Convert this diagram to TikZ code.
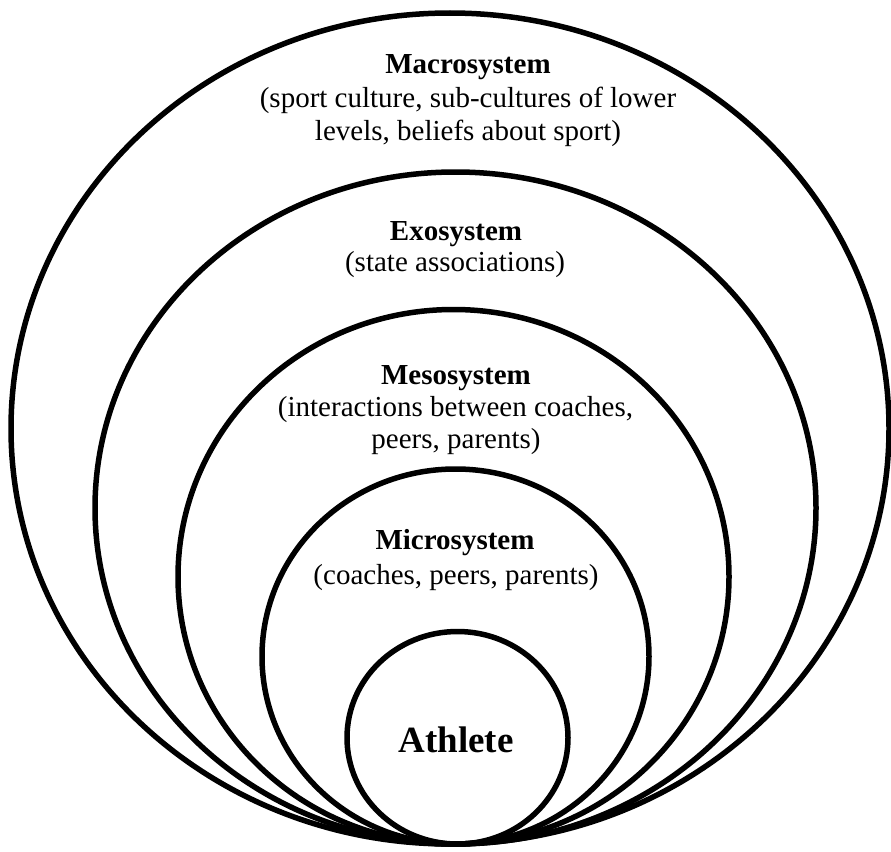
\documentclass[tikz,border=0pt]{standalone}
\usepackage{fontspec}
\setmainfont{Liberation Serif}
\begin{document}
\begin{tikzpicture}[x=1pt,y=-1pt,
  ring/.style={line width=5.5pt, draw=black},
  ttl/.style={font=\fontsize{29}{33}\selectfont\bfseries, anchor=base, inner sep=0pt},
  sub/.style={font=\fontsize{29}{33}\selectfont, anchor=base, inner sep=0pt},
  ath/.style={font=\fontsize{37}{40}\selectfont\bfseries, anchor=base, inner sep=0pt}]
\useasboundingbox (0,0) rectangle (891,851);
% nested ellipses, all tangent at the bottom
\draw[ring] (450,428.5) ellipse [x radius=439, y radius=415.5];
\draw[ring] (455.5,508) ellipse [x radius=360.5, y radius=336];
\draw[ring] (453.5,576.75) ellipse [x radius=275.5, y radius=267.25];
\draw[ring] (455.5,656.5) ellipse [x radius=193.5, y radius=187.5];
\draw[ring] (457.5,737.75) ellipse [x radius=110.5, y radius=106.25];
% labels
\node[ttl] (macroT) at (468,74) {Macrosystem};
\node[sub] (macroA) at (468,107.5) {(sport culture, sub-cultures of lower};
\node[sub] (macroB) at (468,140.5) {levels, beliefs about sport)};
\node[ttl] (exoT) at (456,240) {Exosystem};
\node[sub] (exoA) at (455,271.5) {(state associations)};
\node[ttl] (mesoT) at (456,384) {Mesosystem};
\node[sub] (mesoA) at (455.5,416.5) {(interactions between coaches,};
\node[sub] (mesoB) at (456,448.5) {peers, parents)};
\node[ttl] (microT) at (455,549) {Microsystem};
\node[sub] (microA) at (456,584) {(coaches, peers, parents)};
\node[ath] (athlete) at (456,752) {Athlete};
\end{tikzpicture}
\end{document}
